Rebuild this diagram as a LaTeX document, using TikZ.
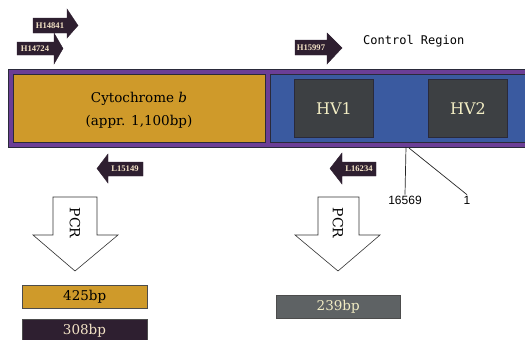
\documentclass[tikz,border=0pt]{standalone}
\usepackage{fontspec}
\setmainfont{DejaVu Serif}
\newfontfamily\ctrlfont{DejaVu Sans Mono}
\newfontfamily\numfont{Liberation Sans}
\newfontfamily\tagfont{Liberation Serif}
\definecolor{purp}{HTML}{6B3E96}
\definecolor{gold}{HTML}{CF9A2A}
\definecolor{blueb}{HTML}{3A5AA0}
\definecolor{hvbox}{HTML}{3D4043}
\definecolor{hvtext}{HTML}{F2EDC4}
\definecolor{darkp}{HTML}{2E1F30}
\definecolor{grayb}{HTML}{5E6264}
\definecolor{outl}{HTML}{2A2A3A}
\definecolor{tagtext}{HTML}{F3E3C6}
\begin{document}
\begin{tikzpicture}[x=1pt,y=-1pt,
  rbox/.style={draw=outl, line width=0.8pt, inner sep=0pt, anchor=north west},
  tagarrow/.style={fill=darkp, draw=darkp, line width=0.4pt},
  taglabel/.style={text=tagtext, font=\tagfont\fontsize{8.6}{9}\selectfont\bfseries, inner sep=0pt},
  pcrarrow/.style={fill=white, draw=black!80, line width=0.6pt},
  pcrlabel/.style={font=\fontsize{14}{14}\selectfont, rotate=-90, inner sep=0pt},
  mark line/.style={draw=black!85, line width=0.7pt},
  numlabel/.style={font=\numfont\fontsize{12}{12}\selectfont, inner sep=1pt},
  bplabel/.style={font=\fontsize{13.5}{14}\selectfont}
]
\useasboundingbox (0,0) rectangle (525,340);
\fill[white] (0,0) rectangle (525,340);
% main bar
\node[rbox, fill=purp, minimum width=525pt, minimum height=78pt] (bar) at (8,69) {};
\node[rbox, fill=gold, minimum width=252pt, minimum height=68pt] (cytb) at (13,74) {};
\node[font=\fontsize{13.5}{23}\selectfont, align=center] (cyttxt) at (139,110) {Cytochrome \textit{b}\\(appr. 1,100bp)};
\node[rbox, fill=blueb, minimum width=265pt, minimum height=68pt] (ctrl) at (270,74) {};
\node[rbox, fill=hvbox, minimum width=79pt, minimum height=58pt] (hv1) at (294,79) {};
\node[text=hvtext, font=\fontsize{16}{16}\selectfont] (hv1t) at (hv1.center) {HV1};
\node[rbox, fill=hvbox, minimum width=79pt, minimum height=58pt] (hv2) at (428,79) {};
\node[text=hvtext, font=\fontsize{16}{16}\selectfont] (hv2t) at (hv2.center) {HV2};
% control region label
\node[font=\ctrlfont\fontsize{12}{12}\selectfont, anchor=west, inner sep=0pt] (ctrltxt) at (363,41) {Control Region};
% tag arrows
\path[tagarrow] (33,18) -- (67,18) -- (67,9) -- (78,25.5) -- (67,38) -- (67,33) -- (33,33) -- cycle;
\node[taglabel] (h14841) at (50,25.5) {H14841};
\path[tagarrow] (17,42) -- (54,42) -- (54,33) -- (63,48.5) -- (54,64) -- (54,55) -- (17,55) -- cycle;
\node[taglabel] (h14724) at (35,48.5) {H14724};
\path[tagarrow] (295,40) -- (327,40) -- (327,33) -- (342,48) -- (327,64) -- (327,55) -- (295,55) -- cycle;
\node[taglabel] (h15997) at (311,47.5) {H15997};
\path[tagarrow] (97,168.5) -- (108,154) -- (108,162) -- (143,162) -- (143,176) -- (108,176) -- (108,183) -- cycle;
\node[taglabel] (l15149) at (125,169) {L15149};
\path[tagarrow] (330,168.5) -- (342,153) -- (342,162) -- (376,162) -- (376,176) -- (342,176) -- (342,184) -- cycle;
\node[taglabel] (l16234) at (359,169) {L16234};
% position markers
\node[numlabel] (n16569) at (405,200) {16569};
\node[numlabel] (n1) at (467,200) {1};
\coordinate (pa) at (406,147);
\coordinate (pb) at (409,148);
\draw[mark line] (pa) -- (n16569.north);
\draw[mark line] (pb) -- (n1.north);
% PCR arrows
\path[pcrarrow] (53,197) -- (97,197) -- (97,235) -- (118,235) -- (75,271) -- (33,235) -- (53,235) -- cycle;
\node[pcrlabel] (pcr1) at (75,223) {PCR};
\path[pcrarrow] (318,197) -- (359,197) -- (359,235) -- (380,235) -- (338,271) -- (295,235) -- (318,235) -- cycle;
\node[pcrlabel] (pcr2) at (338,223) {PCR};
% products
\node[rbox, draw=black!70, line width=0.5pt, fill=gold, minimum width=125pt, minimum height=23pt] (p425) at (22,285) {};
\node[bplabel] (t425) at (p425.center) {425bp};
\node[rbox, draw=black!70, line width=0.5pt, fill=darkp, minimum width=125pt, minimum height=24pt] (p308) at (22,319) {};
\node[bplabel, text=tagtext] (t308) at (84.5,331) {308bp};
\node[rbox, draw=black!70, line width=0.5pt, fill=grayb, minimum width=124pt, minimum height=23pt] (p239) at (276,295) {};
\node[bplabel, text=hvtext] (t239) at (p239.center) {239bp};
\end{tikzpicture}
\end{document}
